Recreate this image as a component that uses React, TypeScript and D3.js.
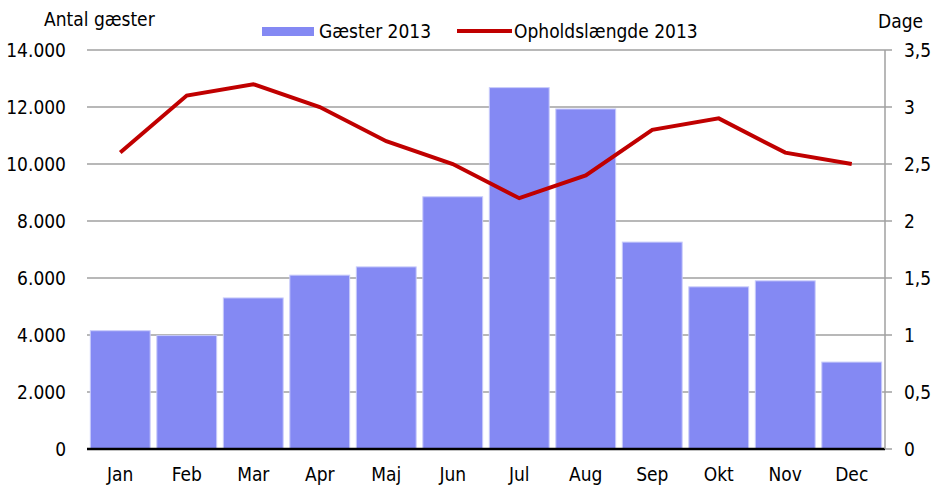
import React from "react";
import * as d3 from "d3";

const months = ["Jan", "Feb", "Mar", "Apr", "Maj", "Jun", "Jul", "Aug", "Sep", "Okt", "Nov", "Dec"];
const guests = [4150, 3980, 5300, 6100, 6390, 8850, 12680, 11930, 7260, 5690, 5900, 3050];
const stayDays = [2.6, 3.1, 3.2, 3.0, 2.7, 2.5, 2.2, 2.4, 2.8, 2.9, 2.6, 2.5];
const leftTicks = [0, 2000, 4000, 6000, 8000, 10000, 12000, 14000];
const rightTicks = [0, 0.5, 1, 1.5, 2, 2.5, 3, 3.5];
const barLabel = "Gæster 2013";
const lineLabel = "Opholdslængde 2013";
const leftTitle = "Antal gæster";
const rightTitle = "Dage";

const W = 944;
const H = 486;
const FONT = "'DejaVu Sans Condensed', 'DejaVu Sans', sans-serif";

export default function App() {
  const left = 87, right = 885, top = 50, bottom = 449;
  const x = d3.scaleBand<string>().domain(months).range([left, right]).paddingInner(0.1).paddingOuter(0.05);
  const yL = d3.scaleLinear().domain([0, 14000]).range([bottom, top]);
  const yR = d3.scaleLinear().domain([0, 3.5]).range([bottom, top]);
  const fmtL = (v: number) => d3.format(",")(v).replace(/,/g, ".");
  const fmtR = (v: number) => String(v).replace(".", ",");
  const line = d3
    .line<number>()
    .x((_, i) => (x(months[i]) as number) + x.bandwidth() / 2)
    .y((d) => yR(d));
  const txt = { fontSize: 19, fill: "#000", style: { fontStretch: "condensed" as const } };

  return (
    <svg width={W} height={H} style={{ position: "absolute", left: 0, top: 0, fontFamily: FONT }}>
      <rect width={W} height={H} fill="#fff" />
      {leftTicks.slice(1).map((t) => (
        <line key={t} x1={left} x2={right} y1={yL(t)} y2={yL(t)} stroke="#a0a0a0" strokeWidth={1.5} />
      ))}
      {months.map((m, i) => (
        <rect
          key={m}
          x={x(m)}
          y={yL(guests[i])}
          width={x.bandwidth()}
          height={bottom - yL(guests[i])}
          fill="#8489F3"
          stroke="#c8cbfa"
          strokeWidth={1}
        />
      ))}
      <line x1={left} x2={right} y1={bottom} y2={bottom} stroke="#000" strokeWidth={2.5} />
      <line x1={right} x2={right} y1={top} y2={bottom} stroke="#a0a0a0" strokeWidth={1.5} />
      {rightTicks.map((t) => (
        <line key={t} x1={right} x2={right + 7} y1={yR(t)} y2={yR(t)} stroke="#a0a0a0" strokeWidth={1.5} />
      ))}
      <path d={line(stayDays) || ""} fill="none" stroke="#C00000" strokeWidth={4} strokeLinejoin="miter" />
      {leftTicks.map((t) => (
        <text key={t} x={66} y={yL(t) + 7} textAnchor="end" {...txt}>
          {fmtL(t)}
        </text>
      ))}
      {rightTicks.map((t) => (
        <text key={t} x={904} y={yR(t) + 7} textAnchor="start" {...txt}>
          {fmtR(t)}
        </text>
      ))}
      {months.map((m) => (
        <text key={m} x={(x(m) as number) + x.bandwidth() / 2} y={481} textAnchor="middle" {...txt}>
          {m}
        </text>
      ))}
      <text x={44} y={26} {...txt}>{leftTitle}</text>
      <text x={878} y={28} {...txt}>{rightTitle}</text>
      <rect x={262} y={27} width={52} height={9} fill="#8489F3" />
      <text x={319} y={38} {...txt}>{barLabel}</text>
      <line x1={457} x2={512} y1={31} y2={31} stroke="#C00000" strokeWidth={4} />
      <text x={514} y={38} {...txt}>{lineLabel}</text>
    </svg>
  );
}
